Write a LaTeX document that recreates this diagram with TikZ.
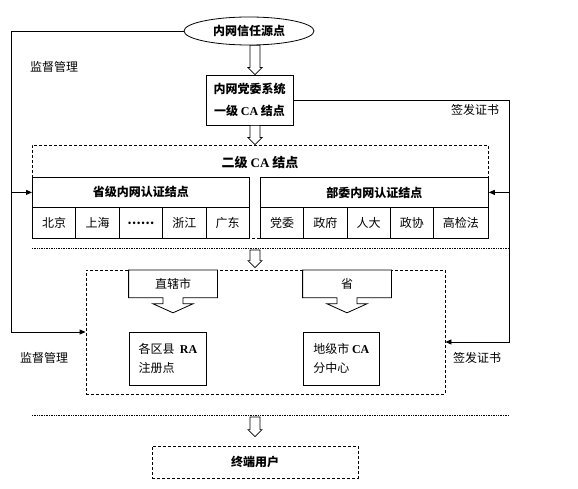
\documentclass[tikz,border=0pt]{standalone}
\usepackage{fontspec}
\setmainfont{Noto Sans CJK SC}
\newfontfamily\latinrm{Liberation Serif}
\usetikzlibrary{positioning,arrows.meta,shapes.geometric,calc}

\newcommand{\hollowdown}[2]{%
  \draw[hollow] let \p1=#1, \p2=#2 in
    (\x1-5pt,\y1) -- (\x1+5pt,\y1) -- (\x1+5pt,\y2+7pt) -- (\x1+7pt,\y2+7pt)
    -- (\x1,\y2) -- (\x1-7pt,\y2+7pt) -- (\x1-5pt,\y2+7pt) -- cycle;}
\newcommand{\calloutdown}[1]{%
  \draw[hollow, line width=0.8pt] let \p1=(#1.south west), \p2=(#1.north east), \p3=(#1.south) in
    (\p1) -- (\x3-10pt,\y1) -- (\x3-10pt,\y1-6pt) -- (\x3-20pt,\y1-6pt) -- (\x3,\y1-15pt)
    -- (\x3+20pt,\y1-6pt) -- (\x3+10pt,\y1-6pt) -- (\x3+10pt,\y1) -- (\x2,\y1)
    -- (\p2) -- (\x1,\y2) -- cycle;}

\begin{document}
\begin{tikzpicture}[x=1pt, y=-1pt, line width=0.8pt,
    font=\fontsize{12}{14}\selectfont,
    box/.style={rectangle, draw=black, inner sep=0pt, align=center},
    dbox/.style={rectangle, draw=black, dash pattern=on 3pt off 2pt, inner sep=0pt},
    cell/.style={box, anchor=north west, minimum height=31},
    head/.style={box, anchor=north west, minimum height=30, font=\fontsize{12}{14}\selectfont\bfseries},
    callout/.style={rectangle, anchor=north, minimum width=88, minimum height=27, inner sep=0pt},
    hollow/.style={draw=black, fill=white, line width=0.7pt},
    arrow/.style={-{Triangle[length=6pt,width=5pt]}},
    sep/.style={densely dotted, line width=0.7pt}
]
    \useasboundingbox (0,0) rectangle (578,489);

    \node[ellipse, draw=black, minimum width=130, minimum height=28, inner sep=0pt,
          font=\fontsize{12}{14}\selectfont\bfseries] (src) at (249,31) {内网信任源点};
    \node[box, minimum width=87, minimum height=50, font=\fontsize{12}{22}\selectfont\bfseries]
          (ca1) at (249.5,100) {内网党委系统\\一级 {\latinrm CA} 结点};

    \node[dbox, minimum width=456, minimum height=93] (l2) at (260,191.5) {};
    \node[font=\fontsize{13}{15}\selectfont\bfseries] (l2t) at (260,163) {二级 {\latinrm CA} 结点};
    \node[head, minimum width=217] (prov) at (32,177) {省级内网认证结点};
    \node[head, minimum width=228] (mini) at (260,177) {部委内网认证结点};
    \foreach \t [count=\i from 0] in {北京,上海,\textbf{……},浙江,广东}
        \node[cell, minimum width=43.4] (p\i) at (32+43.4*\i,207) {\t};
    \foreach \t/\xa/\w [count=\i from 0] in {党委/260/43.25,政府/303.25/43.25,人大/346.5/43.25,
                                             政协/389.75/43.25,高检法/433/55}
        \node[cell, minimum width=\w] (m\i) at (\xa,207) {\t};

    \coordinate (sep1) at (32,248);
    \coordinate (sep2) at (32,415);
    \draw[sep] (sep1) -- (509,248);
    \draw[sep] (sep2) -- (509,415);

    \node[dbox, minimum width=359, minimum height=124] (l3) at (265.5,332) {};
    \node[callout] (zxs) at (173,270) {};
    \calloutdown{zxs}
    \node at (zxs) {直辖市};
    \node[callout] (sheng) at (347,270) {};
    \calloutdown{sheng}
    \node at (sheng) {省};
    \node[box, anchor=north west, minimum width=77, minimum height=53,
          align=left, font=\fontsize{12}{19}\selectfont] (ra) at (129,332)
          {各区县\ \ {\latinrm\bfseries RA}\\注册点};
    \node[box, anchor=north west, minimum width=76, minimum height=53,
          align=left, font=\fontsize{12}{19}\selectfont] (sub) at (303,332)
          {地级市 {\latinrm\bfseries CA}\\分中心};

    \node[dbox, minimum width=206, minimum height=32, font=\fontsize{12}{14}\selectfont\bfseries]
          (user) at (255,462) {终端用户};

    \hollowdown{(src.south -| user)}{(ca1.north -| user)}
    \hollowdown{(ca1.south -| user)}{(l2.north -| user)}
    \hollowdown{($(sep1 -| user)+(0,2)$)}{($(l3.north -| user)+(0,-2)$)}
    \hollowdown{($(sep2 -| user)+(0,2)$)}{($(user.north)+(0,-9)$)}

    \coordinate (lx) at (11,332);
    \coordinate (rx) at (509,342);
    \draw[arrow] (src.west) -| (lx) -- (l3.west);
    \draw[arrow] (lx |- prov.west) -- (prov.west);
    \draw[arrow] (ca1.east) -| (rx) -- (rx -| l3.east);
    \draw[arrow] (rx |- mini.east) -- (mini.east);

    \node (sup1) at (54,67) {监督管理};
    \node (sup2) at (44,358) {监督管理};
    \node (iss1) at (475,110) {签发证书};
    \node (iss2) at (477,358) {签发证书};
\end{tikzpicture}
\end{document}
